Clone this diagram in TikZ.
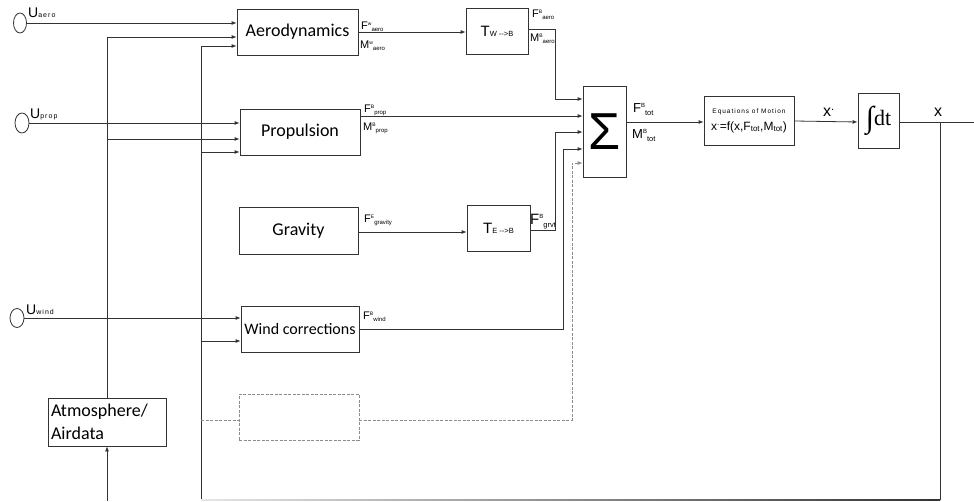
\documentclass[tikz,border=0pt]{standalone}
\usepackage{fontspec}
\setmainfont{Liberation Sans}
\newfontfamily\boxfont{Carlito}
\newfontfamily\spacedfont[LetterSpace=15]{Liberation Sans}
\newfontfamily\intfont{Liberation Serif}
\usetikzlibrary{arrows.meta,shapes.geometric}

% signal names: letter, frame (up), name (down)
\newcommand{\sig}[3]{#1\raisebox{0.8ex}{\fontsize{5}{5}\selectfont #2}\raisebox{-0.3ex}{\fontsize{6}{6}\selectfont #3}}
\newcommand{\sigL}[3]{#1\raisebox{0.8ex}{\fontsize{6}{6}\selectfont #2}\raisebox{-0.3ex}{\fontsize{7.5}{7.5}\selectfont #3}}
\newcommand{\inp}[2]{#1{\spacedfont\fontsize{7}{7}\selectfont #2}}
\newcommand{\tsub}[1]{{\fontsize{7.5}{7.5}\selectfont #1}}

\tikzset{
  block/.style={draw=black!80, rectangle, line width=0.8pt, inner sep=2pt,
    font=\boxfont\fontsize{18}{23}\selectfont},
  source/.style={draw=black!80, ellipse, line width=0.8pt, inner sep=0pt},
  lab/.style={anchor=base west, inner sep=0pt, font=\fontsize{11}{13}\selectfont},
  wire/.style={draw=black!80, line width=0.8pt},
  arr/.style={wire, -{Latex[length=5pt,width=4pt]}},
  dwire/.style={draw=black!45, line width=0.8pt, dash pattern=on 3pt off 1.5pt}
}

\begin{document}
\begin{tikzpicture}[x=1pt,y=-1pt]
  \useasboundingbox (0,0) rectangle (974,502);

  % inputs
  \node[source, minimum width=13pt, minimum height=20pt] (uaero) at (20,23) {};
  \node[source, minimum width=14pt, minimum height=20pt] (uprop) at (22,123) {};
  \node[source, minimum width=14pt, minimum height=19pt] (uwind) at (17,318) {};
  \node[lab, font=\fontsize{14}{14}\selectfont] (luaero) at (28,18) {\inp{U}{aero}};
  \node[lab, font=\fontsize{14}{14}\selectfont] (luprop) at (30,119) {\inp{U}{prop}};
  \node[lab, font=\fontsize{14}{14}\selectfont] (luwind) at (26,315) {\inp{U}{wind}};

  % blocks
  \node[block, minimum width=121pt, minimum height=46pt] (aero) at (297.5,32) {Aerodynamics};
  \node[block, minimum width=120pt, minimum height=46pt] (prop) at (300,132) {Propulsion};
  \node[block, minimum width=119pt, minimum height=47pt] (grav) at (298.5,230.5) {Gravity};
  \node[block, minimum width=118pt, minimum height=46pt, font=\boxfont\fontsize{16}{20}\selectfont] (wind) at (300,329) {Wind corrections};
  \node[block, dwire, minimum width=120pt, minimum height=46pt] (spare) at (299,417) {};
  \node[block, minimum width=118pt, minimum height=48pt, text width=112pt, align=left, inner sep=3pt] (atm) at (107,422) {Atmosphere/\\Airdata};
  \node[block, font=\fontsize{15}{15}\selectfont, minimum width=62pt, minimum height=46pt] (twb) at (497,31) {T\tsub{W {-}{-}>B}};
  \node[block, font=\fontsize{15}{15}\selectfont, minimum width=63pt, minimum height=46pt] (teb) at (498.5,228) {T\tsub{E {-}{-}>B}};
  \node[block, font=\fontsize{52}{52}\selectfont, minimum width=43pt, minimum height=91pt, inner sep=0pt] (sum) at (604.5,131.5) {Σ};
  \node[block, font=\fontsize{12}{13}\selectfont, align=center, minimum width=90pt, minimum height=49pt, inner sep=1pt] (eom) at (749,120.5)
    {{\spacedfont\fontsize{6.5}{7}\selectfont Equations of Motion}\\[4pt]x\textsuperscript{.}=f(x,F\textsubscript{tot},M\textsubscript{tot})};
  \node[block, font=\intfont\fontsize{22}{22}\selectfont, minimum width=41pt, minimum height=55pt, inner sep=0pt] (int) at (878.5,120.5) {\raisebox{-2pt}{\fontsize{30}{30}\selectfont ∫}dt};

  % signal labels
  \node[lab] (fwaero) at (361,30) {\sig{F}{w}{aero}};
  \node[lab] (mwaero) at (360,49) {\sig{M}{w}{aero}};
  \node[lab] (fbaero) at (532,18) {\sig{F}{B}{aero}};
  \node[lab] (mbaero) at (530,42) {\sig{M}{B}{aero}};
  \node[lab] (fbprop) at (364,113) {\sig{F}{B}{prop}};
  \node[lab] (mbprop) at (363,131) {\sig{M}{B}{prop}};
  \node[lab] (fegrav) at (364,223) {\sig{F}{E}{gravity}};
  \node[lab, font=\fontsize{15}{15}\selectfont] (fbgrvt) at (530,225) {\sigL{F}{B}{grvt}};
  \node[lab] (fbwind) at (363,320) {\sig{F}{B}{wind}};
  \node[lab, font=\fontsize{13}{13}\selectfont] (fbtot) at (633,113) {\sigL{F}{B}{tot}};
  \node[lab, font=\fontsize{13}{13}\selectfont] (mbtot) at (632,139) {\sigL{M}{B}{tot}};
  \node[lab, font=\fontsize{16}{16}\selectfont] (lxdot) at (823,117) {x\textsuperscript{.}};
  \node[lab, font=\fontsize{16}{16}\selectfont] (lx) at (934,117) {x};

  % input wires
  \draw[arr] (uaero.east) -- (uaero.east -| aero.west);
  \draw[arr] (uprop.east) -- (uprop.east -| prop.west);
  \draw[arr] (uwind.east) -- (uwind.east -| wind.west);

  % atmosphere bus
  \coordinate (atmin) at (107,501);
  \draw[arr] (atmin) -- (atm.south);
  \draw[arr] (atm.north) |- (aero.west |- 0,37);
  \draw[arr] (atm.north |- 0,139) -- (prop.west |- 0,139);

  % state bus
  \coordinate (bus) at (201,500);
  \draw[arr] (bus) |- (aero.west |- 0,46);
  \draw[arr] (bus |- 0,152) -- (prop.west |- 0,152);
  \draw[arr] (bus |- 0,341) -- (wind.west |- 0,341);
  \draw[dwire] (bus |- 0,420) -- (spare.west |- 0,420);

  % forces and moments
  \draw[arr] (aero.east |- 0,32) -- (twb.west |- 0,32);
  \draw[arr] (grav.east |- 0,232) -- (teb.west |- 0,232);
  \draw[arr] (twb.east |- 0,29) -- (555,29) |- (sum.west |- 0,99);
  \draw[arr] (prop.east |- 0,116) -- (sum.west |- 0,116);
  \draw[arr] (teb.east |- 0,230) -- (555,230) |- (sum.west |- 0,132);
  \draw[arr] (wind.east) -- (563,329) |- (sum.west |- 0,149);
  \draw[dwire, -{Latex[length=5pt,width=4pt]}] (spare.east |- 0,420) -- (572,420) |- (sum.west |- 0,163);

  % motion
  \draw[arr] (sum.east |- 0,122) -- (eom.west |- 0,122);
  \draw[arr] (eom.east |- 0,121) -- (int.west |- 0,122);
  \coordinate (xtap) at (940,122);
  \coordinate (xend) at (974,122);
  \draw[wire] (int.east |- xtap) -- (xend);
  \draw[wire] (xtap) -- (940,500) coordinate (fb);
  \shade[left color=black!10, right color=black!80] (201,499.1) rectangle (fb);
\end{tikzpicture}
\end{document}
